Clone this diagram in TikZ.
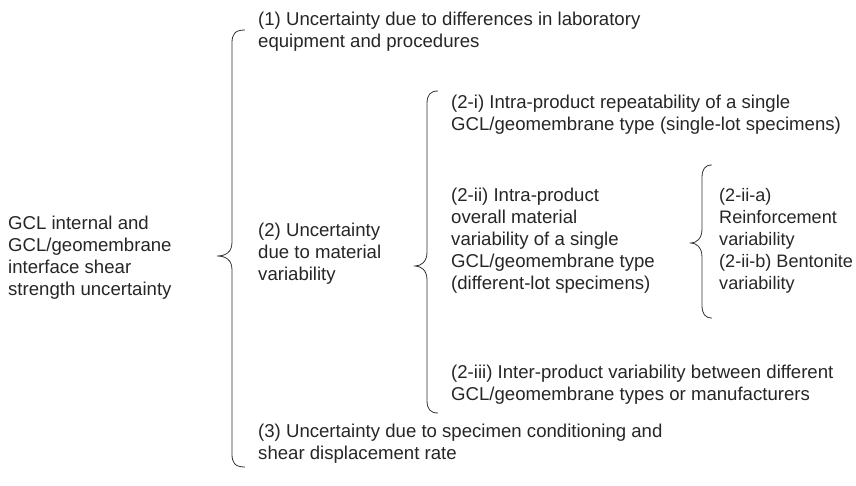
\documentclass[tikz,border=0pt]{standalone}
\usepackage{fontspec}
\setmainfont{Liberation Sans}
\newcommand\mybrace[6]{% xv, xt, yt, xp, yp, yb
  \draw[brace] (#2,#3) .. controls (#1+3,#3) and (#1,#3+4) .. (#1,#3+13)
    -- (#1,#5-14) .. controls (#1,#5-4) and (#1-6,#5) .. (#4,#5)
    .. controls (#1-6,#5) and (#1,#5+4) .. (#1,#5+14)
    -- (#1,#6-13) .. controls (#1,#6-4) and (#1+3,#6) .. (#2,#6);}
\begin{document}
\begin{tikzpicture}[x=1pt,y=-1pt,
  txt/.style={anchor=west,align=left,inner sep=0pt,font=\fontsize{18.6}{22}\selectfont,text=black!85},
  brace/.style={draw=black!80,line width=0.8pt}]
\useasboundingbox (0,0) rectangle (856,486);
\node[txt] (root) at (8,258) {GCL internal and\\GCL/geomembrane\\interface shear\\strength uncertainty};
\node[txt] (n1) at (258,32) {(1) Uncertainty due to differences in laboratory\\equipment and procedures};
\node[txt] (n2) at (258,254) {(2) Uncertainty\\due to material\\variability};
\node[txt] (n3) at (258,444) {(3) Uncertainty due to specimen conditioning and\\shear displacement rate};
\node[txt] (n2i) at (451,115) {(2-i) Intra-product repeatability of a single\\GCL/geomembrane type (single-lot specimens)};
\node[txt] (n2ii) at (451,241) {(2-ii) Intra-product\\overall material\\variability of a single\\GCL/geomembrane type\\(different-lot specimens)};
\node[txt,font=\fontsize{18.1}{22}\selectfont] (n2iia) at (719,241) {(2-ii-a)\\Reinforcement\\variability\\(2-ii-b) Bentonite\\variability};
\node[txt] (n2iii) at (451,385) {(2-iii) Inter-product variability between different\\GCL/geomembrane types or manufacturers};
\mybrace{232}{245}{30}{217}{256}{467}
\mybrace{427}{438}{91}{415}{266}{413}
\mybrace{702}{712}{165}{691}{243}{318}
\end{tikzpicture}
\end{document}
